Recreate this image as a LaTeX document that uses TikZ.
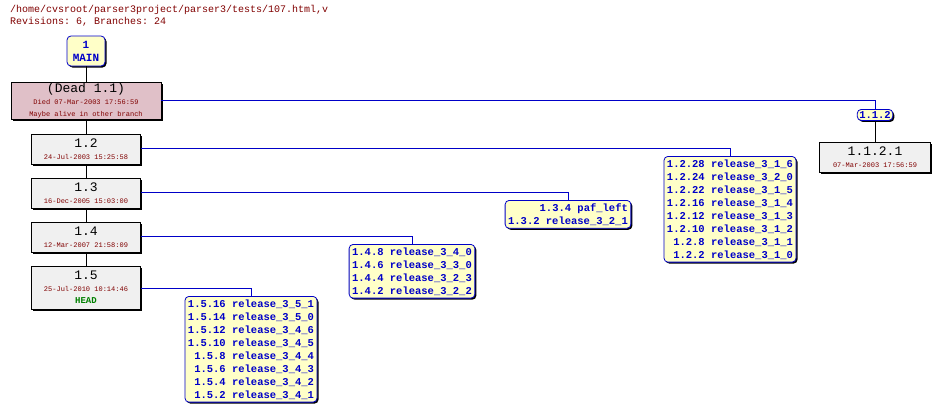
\documentclass[tikz,border=0pt]{standalone}
\usepackage{fontspec}
\setmonofont{Liberation Mono}
\usetikzlibrary{shadows}
\definecolor{txtred}{RGB}{128,0,0}
\definecolor{brblue}{RGB}{0,0,200}
\definecolor{tagfill}{RGB}{255,255,200}
\definecolor{revfill}{RGB}{240,240,240}
\definecolor{deadfill}{RGB}{224,192,200}
\tikzset{
  rev/.style={draw,thick,fill=revfill,inner sep=1pt,align=center,font=\ttfamily,
    drop shadow={shadow xshift=1.5pt,shadow yshift=-1.5pt,fill=black,opacity=1}},
  tags/.style={draw=brblue,thick,fill=tagfill,rounded corners=4pt,inner sep=3pt,
    align=right,font=\ttfamily\bfseries\fontsize{10.5}{13}\selectfont,text=brblue,
    drop shadow={shadow xshift=1.5pt,shadow yshift=-1.5pt,fill=black,opacity=1}},
  trunk/.style={thick},
  branch/.style={brblue}
}
\newcommand{\revbig}{\fontsize{13}{14}\selectfont}
\newcommand{\revsmall}{\fontsize{7}{7.5}\selectfont\color{txtred}}
\begin{document}
\begin{tikzpicture}[x=1pt,y=-1pt]
  \useasboundingbox (0,0) rectangle (939,415);
  \node[anchor=north west,font=\ttfamily\fontsize{10}{12.5}\selectfont,text=txtred,align=left,inner sep=0pt] (title) at (10,5)
    {/home/cvsroot/parser3project/parser3/tests/107.html,v\\Revisions: 6, Branches: 24};

  % trunk
  \node[tags,minimum width=38pt,minimum height=30pt,align=center,font=\ttfamily\bfseries\fontsize{11}{13}\selectfont] (main) at (86,51) {1\\MAIN};
  \node[rev,fill=deadfill,minimum width=150pt,minimum height=36pt] (r11) at (86,101)
    {\revbig (Dead 1.1)\\\revsmall Died 07-Mar-2003 17:56:59\\\revsmall Maybe alive in other branch};
  \node[rev,minimum width=109pt,minimum height=30pt] (r12) at (86,149) {\revbig 1.2\\\revsmall 24-Jul-2003 15:25:58};
  \node[rev,minimum width=109pt,minimum height=30pt] (r13) at (86,193) {\revbig 1.3\\\revsmall 16-Dec-2005 15:03:00};
  \node[rev,minimum width=109pt,minimum height=30pt] (r14) at (86,237) {\revbig 1.4\\\revsmall 12-Mar-2007 21:58:09};
  \node[rev,minimum width=109pt,minimum height=43pt] (r15) at (86,287.5)
    {\revbig 1.5\\\revsmall 25-Jul-2010 10:14:46\\\bfseries\fontsize{9}{10}\selectfont\color{green!50!black}HEAD};
  \draw[trunk] (main) -- (r11);
  \draw[trunk] (r11) -- (r12);
  \draw[trunk] (r12) -- (r13);
  \draw[trunk] (r13) -- (r14);
  \draw[trunk] (r14) -- (r15);

  % branches
  \node[tags,anchor=north] (b15) at (251,296) {1.5.16 release\_3\_5\_1\\1.5.14 release\_3\_5\_0\\1.5.12 release\_3\_4\_6\\1.5.10 release\_3\_4\_5\\1.5.8 release\_3\_4\_4\\1.5.6 release\_3\_4\_3\\1.5.4 release\_3\_4\_2\\1.5.2 release\_3\_4\_1};
  \node[tags,anchor=north] (b14) at (412,244) {1.4.8 release\_3\_4\_0\\1.4.6 release\_3\_3\_0\\1.4.4 release\_3\_2\_3\\1.4.2 release\_3\_2\_2};
  \node[tags,anchor=north] (b13) at (568,200) {1.3.4 paf\_left\\1.3.2 release\_3\_2\_1};
  \node[tags,anchor=north] (b12) at (730,156) {1.2.28 release\_3\_1\_6\\1.2.24 release\_3\_2\_0\\1.2.22 release\_3\_1\_5\\1.2.16 release\_3\_1\_4\\1.2.12 release\_3\_1\_3\\1.2.10 release\_3\_1\_2\\1.2.8 release\_3\_1\_1\\1.2.2 release\_3\_1\_0};
  \node[tags,anchor=north,inner sep=2pt] (b11) at (875,109) {1.1.2};
  \node[rev,minimum width=111pt,minimum height=30pt,anchor=north] (r1121) at (875,142) {\revbig 1.1.2.1\\\revsmall 07-Mar-2003 17:56:59};

  \draw[branch] (r15.east |- 0,288) -| (b15.north);
  \draw[branch] (r14.east |- 0,236) -| (b14.north);
  \draw[branch] (r13.east |- 0,192) -| (b13.north);
  \draw[branch] (r12.east |- 0,148) -| (b12.north);
  \draw[branch] (r11.east |- 0,100) -| (b11.north);
  \draw[trunk] (b11) -- (r1121);
\end{tikzpicture}
\end{document}
